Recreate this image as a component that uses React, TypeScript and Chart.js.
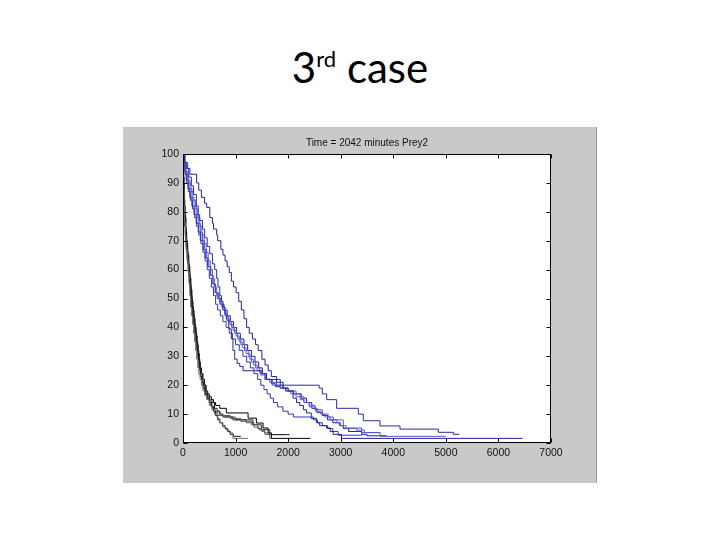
import React, { useEffect, useRef } from "react";
import { Chart, registerables } from "chart.js";

Chart.register(...registerables);

type P = [number, number];

const slideTitle = "case";
const slideOrdinal = "3";
const slideSup = "rd";
const plotTitle = "Time = 2042 minutes Prey2";

const xMin = 0;
const xMax = 7000;
const xStep = 1000;
const yMin = 0;
const yMax = 100;
const yStep = 10;

// Blue series (time in minutes, remaining %)
const blueA: P[] = [[0,100],[30,97],[63,95],[110,92],[159,89],[200,86],[254,82],[290,79],[317,77],[370,74],[413,71],[460,68],[508,65.5],[560,62],[603,60],[640,57],[666,54],[700,51],[730,49],[762,47],[800,44.5],[825,42.5],[870,39.5],[920,36],[950,32],[984,29],[1030,27.5],[1079,26.5],[1142,25],[1500,24],[1580,22],[1850,20],[2590,19],[2650,17],[2733,15],[2923,12],[3335,10],[3430,7.7],[3747,5.9],[4128,4.8],[4857,3.7],[5142,3],[5256,3]];
const blueB: P[] = [[0,100],[40,97],[90,95],[130,93],[260,90],[300,87.5],[350,85],[410,83],[450,81.5],[510,78],[560,76],[580,74],[640,72],[660,70],[720,67],[760,65],[800,63],[840,61],[880,59],[920,56],[960,54],[1010,52],[1060,49],[1110,46],[1160,43],[1210,40],[1260,38],[1320,36],[1380,34],[1430,32],[1500,29],[1560,27],[1620,25],[1680,23],[1780,21],[1904,19],[2000,18],[2094,15.5],[2160,14],[2221,13],[2290,11.5],[2348,10.4],[2440,8.5],[2539,7],[2600,6],[2729,5.2],[2800,4],[2856,3],[3015,1.6],[6460,1.6]];
const blueC: P[] = [[0,100],[20,97],[50,94],[90,91],[130,88],[170,85],[210,82],[250,79],[290,76],[330,73],[370,70],[410,67],[450,64],[490,61],[530,58],[570,55],[610,52],[650,50],[700,48],[750,46],[800,44],[860,42],[920,40],[980,38],[1040,36],[1100,34],[1170,32],[1240,30],[1300,28],[1380,26],[1460,24],[1560,22],[1700,20],[1850,19],[2000,18],[2150,17],[2226,15],[2300,14],[2400,13],[2510,11.5],[2650,10],[2760,9],[2860,8],[3050,5.2],[3400,3.6],[3750,2.3],[5000,2.3]];
const blueD: P[] = [[0,100],[15,96],[40,93],[70,90],[100,87],[140,84],[180,81],[220,78],[260,75],[300,72],[340,69],[380,66],[420,63],[460,60],[500,57],[540,54],[580,51],[620,48],[660,46],[710,44],[760,42],[820,40],[880,38],[940,36],[1000,34],[1070,32],[1140,30],[1210,28],[1280,26],[1350,24],[1420,22],[1480,20],[1540,18.5],[1600,17],[1660,15.5],[1720,14],[1800,12.5],[1900,11],[2000,10],[2100,9],[2480,8],[2560,7],[2650,6],[2750,5],[2850,4],[2950,2.7],[3400,2.7]];
const blueE: P[] = [[0,100],[25,96],[60,93],[100,90],[150,87],[190,84],[240,81],[280,78],[320,75],[360,72],[400,69],[440,66],[480,63],[520,60],[560,57],[600,54],[640,51],[690,49],[740,47],[790,45],[840,43],[890,41],[950,39],[1010,37],[1070,35],[1130,33],[1200,31],[1270,29],[1340,27],[1410,25],[1480,23.5],[1560,22],[1650,21],[1780,20],[1900,19],[1960,18],[2050,17],[2150,16],[2300,14],[2400,12.5],[2520,11],[2620,10],[2700,9],[2800,8],[2930,7],[3000,6],[3100,5],[3300,4.5],[3450,3.6],[3750,3.6]];
const blueF: P[] = [[0,100],[10,97],[35,94],[60,91],[95,88],[130,85],[170,82],[210,79],[250,76],[290,73],[330,70],[380,67],[420,64],[470,61],[520,58],[570,55],[620,52],[670,50],[720,48],[780,46],[840,44],[900,42],[960,40],[1020,38],[1090,36],[1160,34],[1230,32],[1300,30],[1370,28],[1440,26],[1510,24],[1590,22],[1680,20.5],[1760,19.5],[1850,19],[1950,18],[2100,17],[2250,15.5],[2350,14],[2450,12],[2550,10.5],[2650,9.5],[2750,8],[2850,7],[2980,6],[3050,5],[3150,4],[3400,3],[3500,2.5],[3870,2.5]];

// Black / grey series
const blackK1: P[] = [[0,100],[5,94],[12,88],[20,82],[30,76],[45,71],[60,67],[80,63],[100,59],[115,55],[130,51],[145,47],[160,44],[180,41],[200,38],[220,35],[240,32],[260,29],[280,26],[300,24],[325,22],[350,20],[380,18],[410,16.5],[450,15],[500,13],[550,11.5],[600,10],[650,8.5],[700,7],[760,5.5],[820,4.5],[880,3.5],[950,1.6],[1236,1.6]];
const blackK2: P[] = [[0,100],[5,95],[10,90],[18,85],[28,80],[40,75],[55,71],[70,67],[90,63],[110,59],[130,55],[150,51],[170,47],[190,44],[210,41],[230,38],[250,35],[270,32],[290,29],[310,26],[330,23],[355,21],[385,19],[420,17],[460,15.5],[500,14],[540,12.5],[580,11],[620,9.5],[660,8],[700,7],[750,6],[800,5],[850,4],[900,3],[960,2.3],[1100,2.3]];
const blackK3: P[] = [[0,100],[3,95],[8,90],[15,85],[25,80],[35,75],[50,70],[65,66],[85,62],[105,58],[125,54],[145,50],[165,47],[185,44],[205,41],[225,38],[245,35],[265,32],[285,29],[305,26],[330,24],[355,22],[380,20],[410,18],[440,16.5],[480,15],[520,13],[560,12],[610,10.5],[660,9.5],[900,8.5],[1100,7.5],[1300,6.3],[1420,5],[1500,4],[1560,3],[1650,1.6],[1680,1.6]];
const blackK4: P[] = [[0,100],[8,94],[15,89],[25,84],[35,79],[50,74],[65,70],[80,66],[100,62],[120,58],[140,54],[160,50],[180,47],[200,44],[220,41],[240,38],[260,35],[280,32],[300,29],[320,26],[345,24],[370,22],[400,20],[430,18],[460,16.5],[500,15],[550,14],[600,12],[650,11],[700,10],[760,9],[950,8],[1330,6.3],[1490,4.6],[1650,2.9],[2030,2.9]];
const blackK5: P[] = [[0,100],[5,96],[10,92],[20,87],[30,82],[40,78],[55,73],[70,69],[90,65],[110,61],[130,57],[150,53],[170,49],[190,46],[210,43],[230,40],[250,37],[270,34],[290,31],[310,28],[330,26],[350,24],[380,22],[410,20],[440,18],[470,17],[500,16],[540,15],[580,14],[620,13],[700,12],[825,10.4],[1238,8.6],[1396,6.9],[1523,5.2],[1618,3.5],[1682,1.6],[2424,1.6]];
const blackK6: P[] = [[0,100],[4,93],[10,87],[18,82],[28,77],[40,72],[55,68],[75,64],[95,60],[115,56],[135,52],[155,48],[175,45],[195,42],[215,39],[235,36],[255,33],[275,30],[295,27],[315,25],[340,23],[365,21],[395,19],[425,17],[455,15.5],[500,14],[550,12.5],[600,11],[700,9.5],[800,9],[1000,8],[1200,7],[1350,5.5],[1450,4.5],[1550,3.5],[1620,2.9],[1950,2.9]];

const blueSeries: P[][] = [blueA, blueB, blueC, blueD, blueE, blueF];
const blueColors = ["#2a2aa0", "#2222a0", "#5656d2", "#3434b6", "#6262d8", "#1e1e92"];
const blackSeries: P[][] = [blackK1, blackK2, blackK3, blackK4, blackK5, blackK6];
const blackColors = ["#6e6e6e", "#151515", "#5a5a5a", "#222222", "#000000", "#666666"];

const framePlugin = {
  id: "matlabFrame",
  beforeDatasetsDraw(chart: any) {
    const { ctx, chartArea: a } = chart;
    ctx.save();
    ctx.fillStyle = "#ffffff";
    ctx.fillRect(a.left, a.top, a.right - a.left, a.bottom - a.top);
    ctx.restore();
  },
  afterDatasetsDraw(chart: any) {
    const { ctx, chartArea: a, scales } = chart;
    const L = Math.round(a.left) + 0.5;
    const R = Math.round(a.right) - 0.5;
    const T = Math.round(a.top) + 0.5;
    const B = Math.round(a.bottom) - 0.5;
    const tl = 4;
    ctx.save();
    ctx.strokeStyle = "#000";
    ctx.lineWidth = 1;
    ctx.beginPath();
    for (const t of scales.x.ticks) {
      const px = Math.round(scales.x.getPixelForValue(t.value)) + 0.5;
      ctx.moveTo(px, B);
      ctx.lineTo(px, B - tl);
      ctx.moveTo(px, T);
      ctx.lineTo(px, T + tl);
    }
    for (const t of scales.y.ticks) {
      const py = Math.round(scales.y.getPixelForValue(t.value)) + 0.5;
      ctx.moveTo(L, py);
      ctx.lineTo(L + tl, py);
      ctx.moveTo(R, py);
      ctx.lineTo(R - tl, py);
    }
    ctx.stroke();
    ctx.strokeRect(L, T, R - L, B - T);
    ctx.restore();
  },
};

export default function App() {
  const ref = useRef<HTMLCanvasElement | null>(null);

  useEffect(() => {
    if (!ref.current) return;
    const datasets: any[] = [];
    blackSeries.forEach((s, i) => {
      datasets.push({
        data: s.map(([x, y]) => ({ x, y })),
        borderColor: blackColors[i],
        borderWidth: 1,
        pointRadius: 0,
        stepped: true,
        fill: false,
      });
    });
    blueSeries.forEach((s, i) => {
      datasets.push({
        data: s.map(([x, y]) => ({ x, y })),
        borderColor: blueColors[i],
        borderWidth: 1,
        pointRadius: 0,
        stepped: true,
        fill: false,
      });
    });
    const tickFont = { family: "'Liberation Sans', Arial, sans-serif", size: 10.5 };
    const chart = new Chart(ref.current, {
      type: "line",
      data: { datasets },
      plugins: [framePlugin],
      options: {
        animation: false,
        responsive: false,
        devicePixelRatio: 1,
        layout: { padding: { left: 0, right: 46, top: 0, bottom: 0 } },
        plugins: {
          legend: { display: false },
          tooltip: { enabled: false },
          title: {
            display: true,
            text: plotTitle,
            fullSize: false,
            color: "#111",
            font: { family: "'Liberation Sans', Arial, sans-serif", size: 10, weight: "normal", lineHeight: 1.2 },
            padding: { top: 10, bottom: 5 },
          },
        },
        scales: {
          x: {
            type: "linear",
            min: xMin,
            max: xMax,
            grid: { display: false, drawTicks: false },
            border: { display: false },
            afterFit: (s: any) => { s.height = 40; },
            ticks: {
              stepSize: xStep,
              padding: 4,
              color: "#111",
              font: tickFont,
              maxRotation: 0,
              autoSkip: false,
              callback: (v: any) => String(v),
            },
          },
          y: {
            type: "linear",
            min: yMin,
            max: yMax,
            grid: { display: false, drawTicks: false },
            border: { display: false },
            afterFit: (s: any) => { s.width = 60; },
            ticks: {
              stepSize: yStep,
              padding: 4,
              color: "#111",
              font: tickFont,
              autoSkip: false,
              callback: (v: any) => String(v),
            },
          },
        },
      },
    } as any);
    return () => chart.destroy();
  }, []);

  return (
    <div style={{ position: "fixed", left: 0, top: 0, width: 720, height: 540, background: "#fff", overflow: "hidden" }}>
      <div
        style={{
          position: "absolute",
          left: 0,
          top: 46,
          width: 720,
          textAlign: "center",
          fontFamily: "Lato, 'Open Sans', sans-serif",
          fontSize: 42,
          lineHeight: "42px",
          color: "#000",
        }}
      >
        {slideOrdinal}
        <span style={{ fontSize: 22, position: "relative", top: -16, verticalAlign: "baseline" }}>{slideSup}</span>{" "}
        {slideTitle}
      </div>
      <div
        style={{
          position: "absolute",
          left: 123,
          top: 127,
          width: 474,
          height: 356,
          background: "#c9c9c9",
          boxShadow: "inset -1px 0 0 #9a9a9a",
        }}
      >
        <canvas ref={ref} width={474} height={356} style={{ display: "block" }} />
      </div>
    </div>
  );
}
